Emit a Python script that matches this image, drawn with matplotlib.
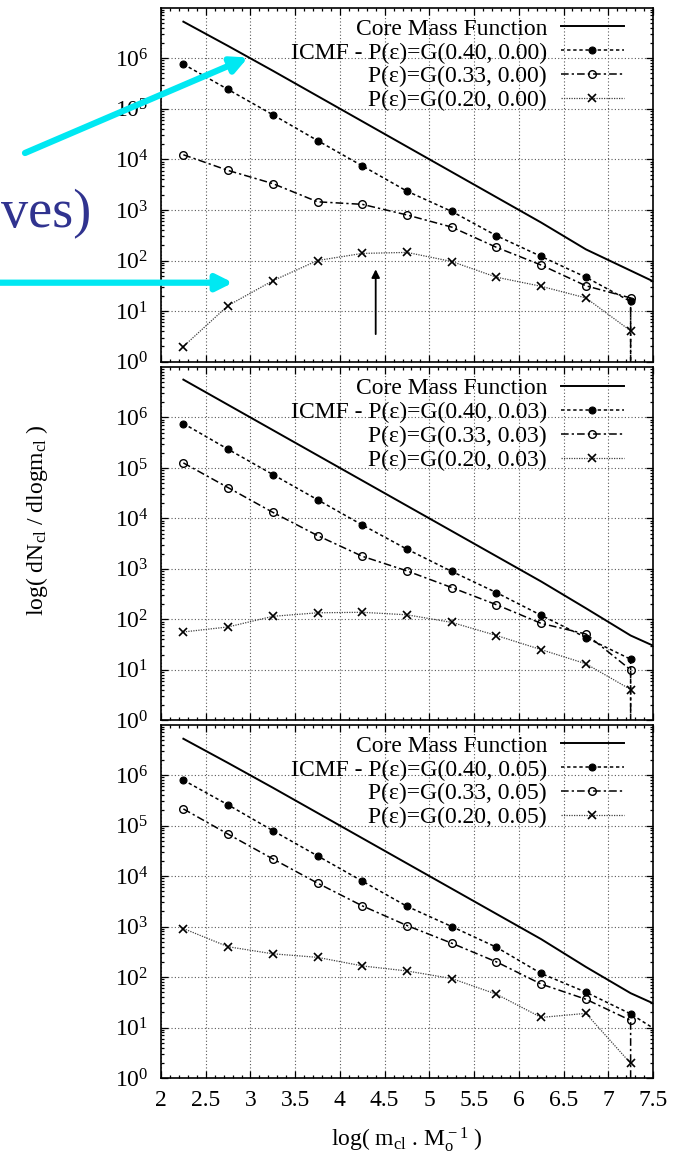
import numpy as np
import matplotlib.pyplot as plt
from matplotlib.ticker import FixedLocator, LogLocator, MultipleLocator, NullFormatter, FuncFormatter

plt.rcParams['font.family'] = ['Liberation Serif', 'DejaVu Serif']
plt.rcParams['mathtext.fontset'] = 'custom'
plt.rcParams['mathtext.rm'] = 'Liberation Serif'
plt.rcParams['mathtext.it'] = 'Liberation Serif:italic'
plt.rcParams['font.size'] = 17

# log10(m_cl) bins
x = [2.25, 2.75, 3.25, 3.75, 4.25, 4.75, 5.25, 5.75, 6.25, 6.75, 7.25]
x_ext = x + [7.75]     # line continues past the right edge
x_drop = x + [7.25]    # last bin falls to zero (vertical drop)

sigmas = ['0.00', '0.03', '0.05']

# log10(dN/dlogm), one list per panel
cmf = [
    [6.72, 6.24, 5.75, 5.25, 4.75, 4.25, 3.75, 3.25, 2.75, 2.22, 1.80, 1.38],
    [6.75, 6.25, 5.75, 5.25, 4.75, 4.25, 3.75, 3.25, 2.75, 2.22, 1.68, 1.28],
    [6.72, 6.24, 5.75, 5.25, 4.75, 4.25, 3.75, 3.25, 2.75, 2.20, 1.68, 1.28],
]
e040 = [
    [5.88, 5.38, 4.88, 4.37, 3.87, 3.37, 2.97, 2.49, 2.08, 1.67, 1.19, -3],
    [5.88, 5.37, 4.87, 4.37, 3.87, 3.39, 2.95, 2.53, 2.08, 1.64, 1.21, -3],
    [5.90, 5.41, 4.90, 4.40, 3.90, 3.40, 3.00, 2.59, 2.07, 1.70, 1.27, 0.71],
]
e033 = [
    [4.09, 3.78, 3.52, 3.16, 3.11, 2.90, 2.66, 2.26, 1.91, 1.50, 1.26, -3],
    [5.10, 4.61, 4.12, 3.66, 3.25, 2.96, 2.63, 2.29, 1.92, 1.71, 1.00, -3],
    [5.33, 4.83, 4.34, 3.86, 3.41, 3.02, 2.67, 2.30, 1.86, 1.56, 1.14, -3],
]
e020 = [
    [0.30, 1.11, 1.60, 2.00, 2.14, 2.16, 1.98, 1.67, 1.49, 1.26, 0.61],
    [1.75, 1.85, 2.06, 2.13, 2.14, 2.09, 1.94, 1.68, 1.40, 1.12, 0.61],
    [2.96, 2.60, 2.46, 2.39, 2.22, 2.12, 1.97, 1.66, 1.20, 1.28, 0.29],
]
x040 = [x_drop, x_drop, x_ext]

# vertical arrow in the top panel (peak of the 0.20 curve)
peak_arrow = (4.40, 10**0.49, 10**1.88)

W, H = 688, 1155
fig = plt.figure(figsize=(W / 100, H / 100), dpi=100)

left, width = 161 / W, 492 / W
panels = [(7.5, 361.7), (367, 720.3), (724.6, 1078)]

axes = []
for i, (top, bot) in enumerate(panels):
    ax = fig.add_axes([left, 1 - bot / H, width, (bot - top) / H])
    axes.append(ax)
    ax.set_yscale('log')
    ax.set_xlim(2, 7.5)
    ax.set_ylim(1, 1e7)

    ax.plot(x_ext, 10 ** np.array(cmf[i]), '-', color='black', lw=1.4,
            label='Core Mass Function')
    ax.plot(x040[i], 10 ** np.array(e040[i]), color='black', lw=1.1,
            ls=(0, (2.2, 1.8)), marker='o', ms=5, mfc='black', mew=0.8,
            label='ICMF - P(ε)=G(0.40, %s)' % sigmas[i])
    ax.plot(x_drop, 10 ** np.array(e033[i]), color='black', lw=1.1,
            ls=(0, (5, 2, 1.5, 2)), marker='o', ms=5.5, mfc='none', mew=1.0,
            label='P(ε)=G(0.33, %s)' % sigmas[i])
    ax.plot(x, 10 ** np.array(e020[i]), color='0.25', lw=0.9,
            ls=(0, (1, 1)), marker='x', ms=5.5, mec='black', mew=1.2,
            label='P(ε)=G(0.20, %s)' % sigmas[i])

    ax.legend(loc='upper right', bbox_to_anchor=(0.962, 1.0), frameon=False,
              markerfirst=False, numpoints=1, handlelength=2.65,
              handletextpad=0.6, labelspacing=0.1, borderpad=0.45,
              borderaxespad=0, fontsize=17)

    ax.xaxis.set_major_locator(MultipleLocator(0.5))
    ax.xaxis.set_minor_locator(MultipleLocator(0.1))
    ax.xaxis.set_major_formatter(FuncFormatter(lambda v, p: '%g' % v))
    ax.yaxis.set_major_locator(FixedLocator([10.0 ** k for k in range(7)]))
    ax.yaxis.set_minor_locator(LogLocator(base=10, subs=np.arange(2, 10), numticks=20))
    ax.yaxis.set_minor_formatter(NullFormatter())

    ax.grid(True, which='major', ls=(0, (1, 2)), color='0.35', lw=0.8)
    ax.set_axisbelow(True)
    ax.tick_params(which='both', direction='in', top=True, right=True,
                   width=0.9, labelsize=17, pad=9)
    ax.tick_params(which='major', length=5)
    ax.tick_params(which='minor', length=2.5)
    for s in ax.spines.values():
        s.set_linewidth(1.2)
    if i < 2:
        ax.tick_params(labelbottom=False)

axes[0].annotate('', xy=(peak_arrow[0], peak_arrow[2]),
                 xytext=(peak_arrow[0], peak_arrow[1]),
                 arrowprops=dict(arrowstyle='-|>', color='black', lw=1.3,
                                 mutation_scale=12))

axes[2].set_xlabel(r'log( m$_{\rm cl}$ . M$_{\rm o}^{\rm -1}$ )', fontsize=17, labelpad=10)
fig.text(37 / W, 1 - 520 / H, r'log( dN$_{\rm cl}$ / dlogm$_{\rm cl}$ )',
         rotation=90, ha='center', va='center', fontsize=17)

# slide overlay: cyan pointers and clipped caption
cyan = '#00e8f2'
axes[0].annotate('', xy=(248, H - 57.5), xytext=(25, H - 153),
                 xycoords='figure pixels', textcoords='figure pixels',
                 annotation_clip=False,
                 arrowprops=dict(arrowstyle='-|>', color=cyan, lw=4.5,
                                 mutation_scale=24, shrinkA=0, shrinkB=0))
axes[0].annotate('', xy=(233, H - 282.7), xytext=(-5, H - 282.7),
                 xycoords='figure pixels', textcoords='figure pixels',
                 annotation_clip=False,
                 arrowprops=dict(arrowstyle='-|>', color=cyan, lw=4.5,
                                 mutation_scale=24, shrinkA=0, shrinkB=0))
fig.text(1 / W, 1 - 227 / H, 'ves)', ha='left', va='baseline',
         fontsize=39, color='#30338f')

fig.savefig('out.png', dpi=100)
